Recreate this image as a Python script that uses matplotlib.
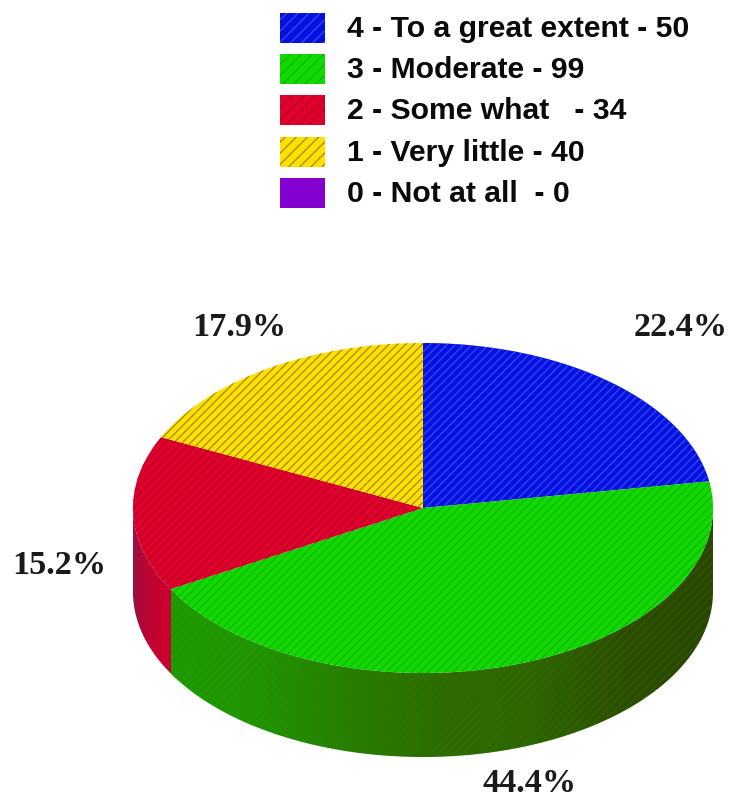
import numpy as np
import matplotlib
matplotlib.use("Agg")
import matplotlib.pyplot as plt
from matplotlib.colors import LinearSegmentedColormap
from matplotlib.patches import Polygon, Rectangle

# chart data
legend_labels = ["4 - To a great extent - 50", "3 - Moderate - 99", "2 - Some what   - 34",
                 "1 - Very little - 40", "0 - Not at all  - 0"]
legend_colors = ["#0810e0", "#12da00", "#e0002a", "#ffe000", "#8400d0"]
legend_stripes = ["#2848f8", "#10b800", "#b80030", "#a89000", "#8400d0"]
values = [50, 99, 34, 40]
pct_labels = ["22.4%", "44.4%", "15.2%", "17.9%"]
pct_pos = [(681, 327), (530, 784), (59, 566), (239, 327)]

# geometry of the pie, in pixels
cx, cy, rx, ry, depth = 423, 508, 290, 165, 84

plt.rcParams["hatch.linewidth"] = 1.0


def arc(a0, a1, dy=0):
    t = np.radians(np.linspace(a0, a1, 200))
    return np.column_stack([cx + rx * np.cos(t), cy + dy - ry * np.sin(t)])


def side(a0, a1, colors, stripe=None):
    # wall of the pie between two angles, shaded from left to right
    pts = np.vstack([arc(a0, a1), arc(a1, a0, depth)])
    cmap = LinearSegmentedColormap.from_list("side", colors)
    im = ax.imshow(np.linspace(0, 1, 256)[None, :], cmap=cmap, aspect="auto",
                   extent=[pts[:, 0].min(), pts[:, 0].max(), cy + ry + depth, cy - ry], zorder=1)
    im.set_clip_path(Polygon(pts, transform=ax.transData))
    if stripe:
        ax.add_patch(Polygon(pts, facecolor="none", edgecolor=stripe, hatch="////",
                             linewidth=0, zorder=1.5, alpha=0.3))


fig = plt.figure(figsize=(7.32, 8), dpi=100)
ax = fig.add_axes([0, 0, 1, 1])

# angles clockwise from the top
angles = 90 - 360 * np.cumsum([0] + values) / sum(values)

side(-180, angles[2] + 2, ["#981040", "#bc0434", "#c80030", "#c80030"])
side(angles[2], 0, ["#1f9c00", "#229400", "#2a7c00", "#2f6a00", "#2f6400", "#2e4c00", "#2c4400"],
     stripe="#1a8a00")

# top of the pie
for i in range(len(values)):
    pts = np.vstack([[cx, cy], arc(angles[i], angles[i + 1])])
    ax.add_patch(Polygon(pts, facecolor=legend_colors[i], edgecolor=legend_stripes[i],
                         hatch="////", linewidth=0, zorder=2))

for lab, (x, y) in zip(pct_labels, pct_pos):
    ax.text(x, y, lab, ha="center", va="center", fontsize=24.7, fontweight="bold",
            family="Liberation Serif", color="#1a1a1a")

# legend
for i, lab in enumerate(legend_labels):
    y = 13 + i * 41.2
    ax.add_patch(Rectangle((280, y), 45, 30, facecolor=legend_colors[i],
                           edgecolor=legend_stripes[i], hatch="///", linewidth=0))
    ax.text(347, y + 16, lab, ha="left", va="center", fontsize=21.7, fontweight="bold",
            family="Liberation Sans", color="#0a0a0a")

ax.set_xlim(0, 732)
ax.set_ylim(800, 0)
ax.axis("off")
fig.savefig("out.png", dpi=100)
